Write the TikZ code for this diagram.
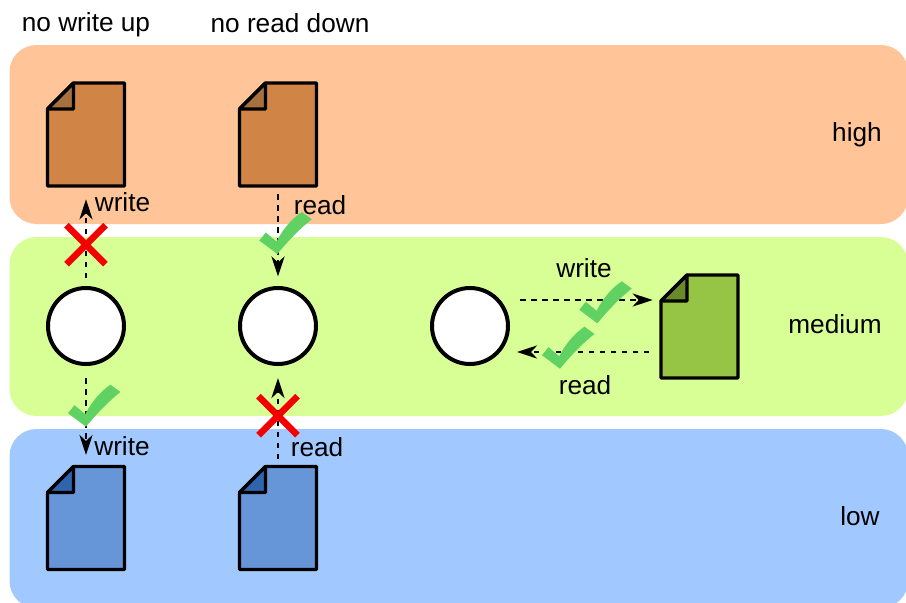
\documentclass[tikz,border=0pt]{standalone}
\usepackage{fontspec}
\setmainfont{Liberation Sans}
\usetikzlibrary{arrows.meta,calc}
\definecolor{bandhigh}{HTML}{FFC599}
\definecolor{bandmed}{HTML}{D8FF96}
\definecolor{bandlow}{HTML}{A2C9FF}
\definecolor{dochigh}{HTML}{D08445}
\definecolor{foldhigh}{HTML}{A6703F}
\definecolor{docmed}{HTML}{96C444}
\definecolor{foldmed}{HTML}{6A8A2A}
\definecolor{doclow}{HTML}{6696D8}
\definecolor{foldlow}{HTML}{2E65AE}
\definecolor{okgreen}{HTML}{60D264}
\tikzset{
  band/.style={rounded corners=27pt,draw=none},
  subject/.style={circle,draw=black,line width=4pt,fill=white,minimum size=76pt,inner sep=0pt,outer sep=0pt},
  docbox/.style={rectangle,minimum width=77pt,minimum height=103pt,inner sep=0pt,outer sep=0pt},
  docline/.style={draw=black,line width=3.2pt,line join=round},
  conn/.style={line width=2.8pt,dash pattern=on 5.5pt off 5.5pt,-{Stealth[length=20pt,width=13pt,inset=6pt,sep=0pt]}},
  lbl/.style={inner sep=0pt,font=\fontsize{26.2}{29}\selectfont,text=black,anchor=base},
  nocross/.style={draw={rgb,255:red,245;green,0;blue,0},line width=6.5pt}
}
\newcommand{\docat}[4]{% name, centre, fill, fold
  \node[docbox] (#1) at (#2) {};
  \path[docline,fill=#3] ($(#1.north west)+(26pt,0)$) -- (#1.north east) -- (#1.south east) -- (#1.south west) -- ($(#1.north west)+(0,-26pt)$) -- cycle;
  \path[docline,fill=#4] ($(#1.north west)+(26pt,0)$) -- ($(#1.north west)+(26pt,-26pt)$) -- ($(#1.north west)+(0,-26pt)$) -- cycle;
}
\newcommand{\tick}[1]{% bottom vertex of the tick
  \fill[okgreen,shift={(#1)}] (0,0) -- (-18,-13.5) -- (-11.5,-21.5) -- (-0.7,-12.5) .. controls (5,-24) and (14,-35) .. (24.5,-42) -- (34.5,-34.7) .. controls (22,-25) and (10,-12) .. cycle;
}
\newcommand{\crossat}[1]{%
  \draw[nocross,shift={(#1)}] (-19.5,-19.5) -- (19.5,19.5) (-19.5,19.5) -- (19.5,-19.5);
}
\begin{document}
\begin{tikzpicture}[x=1pt,y=-1pt]
\useasboundingbox (0,0) rectangle (906,603);
\begin{scope}
\clip (0,0) rectangle (906,603);
\path[band,fill=bandhigh] (9.5,45) rectangle (908,224);
\path[band,fill=bandmed] (9.5,237) rectangle (908,416);
\path[band,fill=bandlow] (9.5,429) rectangle (908,608);
\end{scope}
\node[lbl] (t1) at (86,31) {no write up};
\node[lbl] (t2) at (290,32) {no read down};
\node[lbl] (hi) at (857,141.5) {high};
\node[lbl] (me) at (835,333) {medium};
\node[lbl] (lo) at (860,525.5) {low};
\docat{d1}{86,134.5}{dochigh}{foldhigh}
\docat{d2}{278,134.5}{dochigh}{foldhigh}
\docat{d3}{699.5,326.5}{docmed}{foldmed}
\docat{d4}{86,518}{doclow}{foldlow}
\docat{d5}{278,518}{doclow}{foldlow}
\node[subject] (c1) at (86,326) {};
\node[subject] (c2) at (278,326) {};
\node[subject] (c3) at (470,326) {};
\coordinate (wa) at (520,300);
\coordinate (wb) at (652.7,300);
\coordinate (ra) at (649,352);
\coordinate (rb) at (517,352);
\draw[conn,shorten <=10pt,shorten >=13.3pt] (c1.north) -- (d1.south);
\draw[conn,shorten <=8pt,shorten >=11.5pt] (d2.south) -- (c2.north);
\draw[conn,shorten <=14pt,shorten >=11.5pt] (c1.south) -- (d4.north);
\draw[conn,shorten <=7.5pt,shorten >=14pt] (d5.north) -- (c2.south);
\draw[conn] (wa) -- (wb);
\draw[conn] (ra) -- (rb);
\node[lbl] (l1) at (122.5,211) {write};
\node[lbl] (l2) at (320,214) {read};
\node[lbl] (l3) at (122,455) {write};
\node[lbl] (l4) at (317,456) {read};
\node[lbl] (l5) at (584,277) {write};
\node[lbl] (l6) at (585,394) {read};
\crossat{86,244.7}
\crossat{278,415.7}
\tick{277.3,254}
\tick{86,426.7}
\tick{597.3,323.3}
\tick{560,368.7}
\end{tikzpicture}
\end{document}
